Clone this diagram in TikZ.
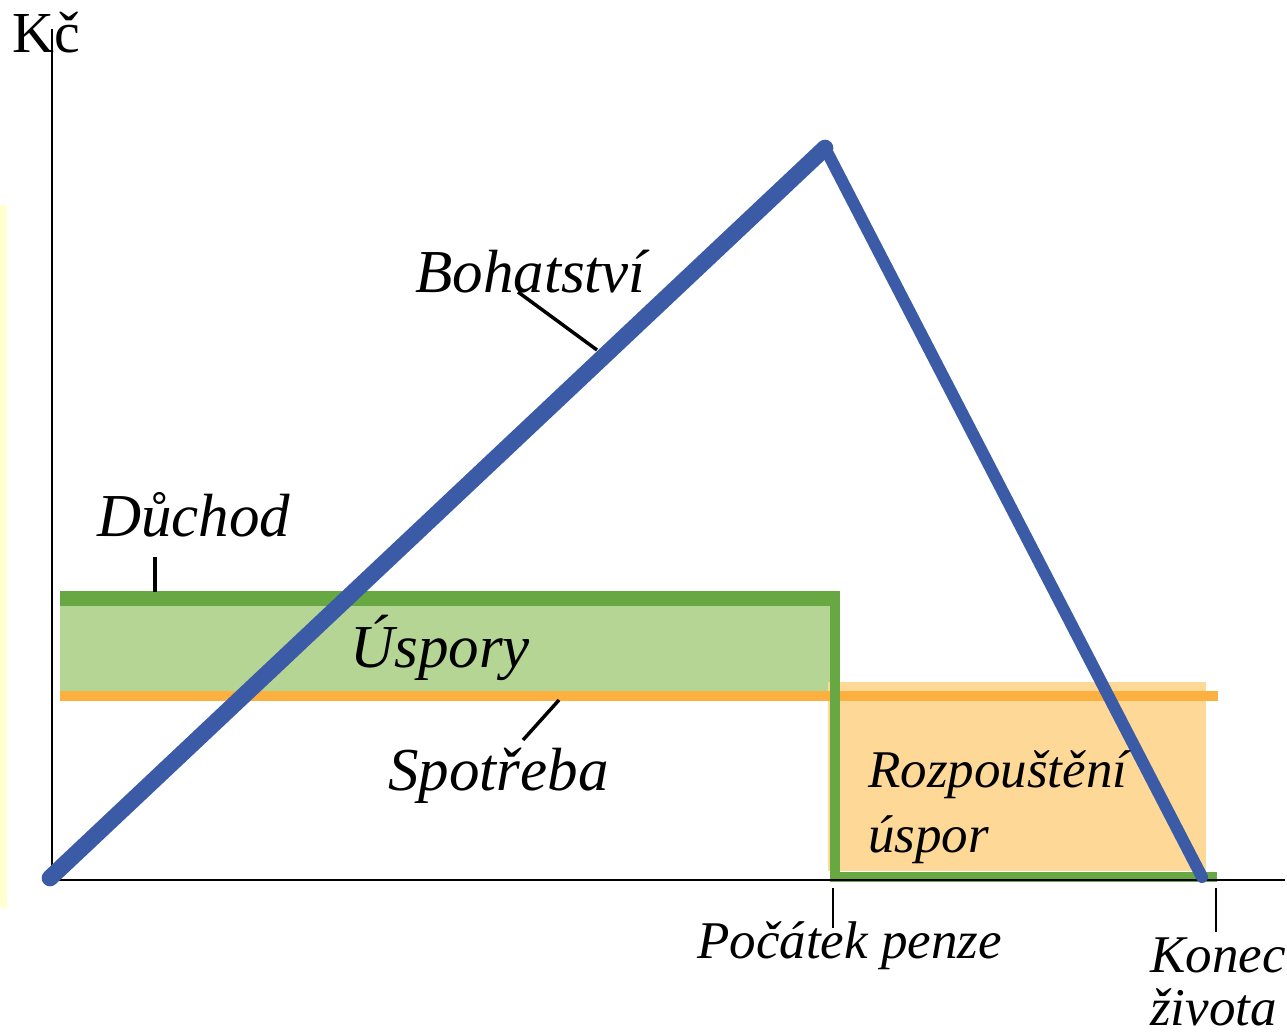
\documentclass[tikz,border=0pt]{standalone}
\usepackage{fontspec}
\setmainfont{Liberation Serif}
\usepackage{tikz}
\definecolor{paleyellow}{RGB}{255,255,208}
\definecolor{savefill}{RGB}{181,213,149}
\definecolor{incomegreen}{RGB}{103,168,66}
\definecolor{spendorange}{RGB}{251,176,64}
\definecolor{drawfill}{RGB}{254,216,151}
\definecolor{wealthblue}{RGB}{59,91,167}

\begin{document}
\begin{tikzpicture}[x=0.75pt,y=0.75pt,yscale=-1,xscale=1,
    biglbl/.style={anchor=base west,inner sep=0pt,font=\fontsize{45.75}{54}\selectfont\itshape},
    smalllbl/.style={anchor=base west,inner sep=0pt,align=left,font=\fontsize{39.75}{48.75}\selectfont\itshape},
    leader/.style={line width=2.6pt},
    axisline/.style={line width=2.1pt}]
    \useasboundingbox (0,0) rectangle (1287,1034);
    
    %Shape: Rectangle
    \fill [paleyellow] (0,205) rectangle (7,908) ;
    %Shape: Rectangle
    \fill [savefill] (60,605) rectangle (835,692) ;
    %Shape: Rectangle
    \fill [drawfill] (828,682) rectangle (1206,871) ;
    %Straight Lines
    \draw [spendorange, line width=7.5pt]  (60,696) -- (1218,696) ;
    %Straight Lines
    \draw [incomegreen, line width=11.25pt]  (60,598) -- (840,598) ;
    %Straight Lines
    \draw [incomegreen, line width=7.5pt]  (835,592) -- (835,877) -- (1217,877) ;
    
    %Axes
    \coordinate (origin) at (52,880) ;
    \coordinate (ytop) at (52,29) ;
    \coordinate (xend) at (1285,880) ;
    \draw [axisline]  (ytop) -- (origin) -- (xend) ;
    
    %Straight Lines
    \coordinate (wstart) at (50,878) ;
    \coordinate (wpeak) at (825,148) ;
    \coordinate (wend) at (1202,877) ;
    \draw [wealthblue, line width=12.5pt, line cap=round]  (wstart) -- (wpeak) ;
    \draw [wealthblue, line width=9pt, line cap=round]  (wpeak) -- (wend) ;
    
    % Text Node
    \draw (12,53) node (kc) [anchor=base west][inner sep=0pt]  [font=\fontsize{43.5}{50}\selectfont]  {Kč};
    % Text Node
    \draw (415,292) node (bohatstvi) [biglbl]  {Bohatství};
    % Text Node
    \draw (97,536) node (duchod) [biglbl]  {Důchod};
    % Text Node
    \draw (350,667) node (uspory) [biglbl]  {Úspory};
    % Text Node
    \draw (388,790) node (spotreba) [biglbl]  {Spotřeba};
    % Text Node
    \draw (868,852) node (rozpousteni) [smalllbl]  {Rozpouštění\\úspor};
    % Text Node
    \draw (697,958) node (pocatek) [smalllbl]  {Počátek penze};
    % Text Node
    \draw (1150,1025) node (konec) [smalllbl, font=\fontsize{39.75}{39.75}\selectfont\itshape]  {Konec\\života};
    
    %Leader Lines
    \coordinate (bohA) at (518,292) ;
    \coordinate (bohB) at (597,350) ;
    \draw [leader]  (bohA) -- (bohB) ;
    \coordinate (duchA) at (155,557) ;
    \coordinate (duchB) at (155,592) ;
    \draw [leader]  (duchA) -- (duchB) ;
    \coordinate (spotA) at (559,700) ;
    \coordinate (spotB) at (523,740) ;
    \draw [leader]  (spotA) -- (spotB) ;
    \coordinate (pocA) at (833,888) ;
    \coordinate (pocB) at (833,928) ;
    \draw [axisline]  (pocA) -- (pocB) ;
    \coordinate (konA) at (1216,888) ;
    \coordinate (konB) at (1216,932) ;
    \draw [axisline]  (konA) -- (konB) ;
    
\end{tikzpicture}
\end{document}
